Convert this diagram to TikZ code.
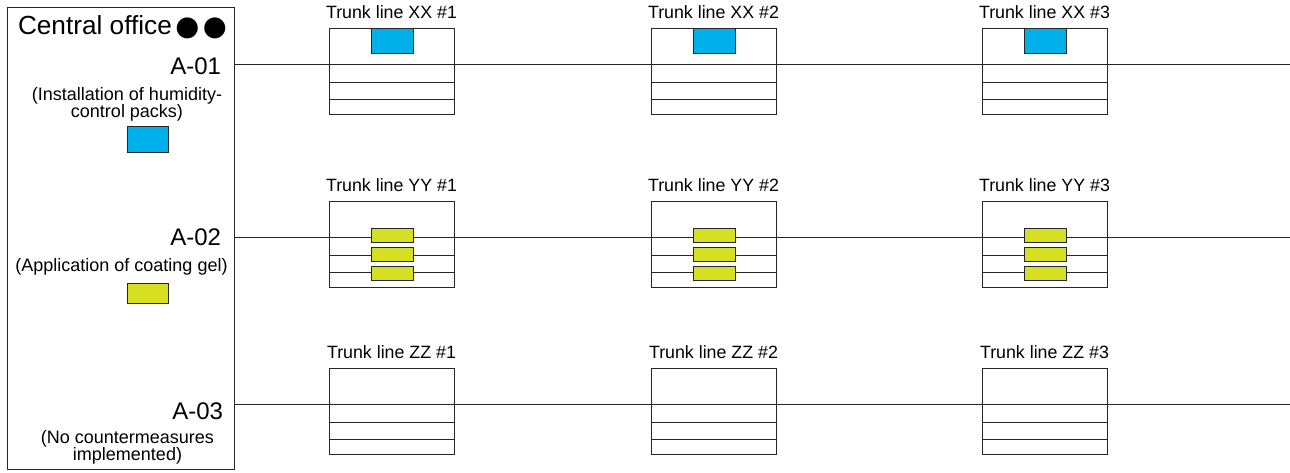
\documentclass[tikz,border=0pt]{standalone}
\usepackage{fontspec}
\setmainfont{Liberation Sans}
\newfontfamily\symfont{DejaVu Sans}
\definecolor{packblue}{HTML}{00B0EB}
\definecolor{gelyellow}{HTML}{D7DF23}
\definecolor{ink}{HTML}{262626}
\begin{document}
\begin{tikzpicture}[x=1pt,y=-1pt,
  frame/.style={draw=ink, line width=1pt},
  plain/.style={inner sep=0pt, outer sep=0pt},
  trunkbox/.style={frame, plain, anchor=north west, minimum width=125pt, minimum height=86pt},
  swatch/.style={draw=ink, line width=0.8pt, plain, anchor=north west},
  trunklabel/.style={plain, anchor=base, font=\fontsize{17.8}{20}\selectfont},
  codelabel/.style={plain, anchor=base east, font=\fontsize{24}{28}\selectfont},
  notelabel/.style={plain, align=center, font=\fontsize{18}{17}\selectfont}]
\useasboundingbox (0,0) rectangle (1290,472);

% office panel on the left
\node[frame, plain, anchor=north west, minimum width=227pt, minimum height=462pt] (office) at (7,7) {};
\node[plain, anchor=base west, font=\fontsize{26.2}{30}\selectfont] (officename) at (18,34)
  {Central office\hspace{3.5pt}{\symfont\fontsize{27.5}{28}\selectfont\raisebox{-1.5pt}{●}\hspace{3.5pt}\raisebox{-1.5pt}{●}}};

\node[codelabel] (a01) at (221,74) {A-01};
\node[notelabel, anchor=north] (a01note) at (127,87) {(Installation of humidity-\\control packs)};
\node[swatch, fill=packblue, minimum width=41pt, minimum height=26pt] (a01key) at (127,126) {};

\node[codelabel] (a02) at (221,245) {A-02};
\node[notelabel, anchor=base] (a02note) at (121.5,271) {(Application of coating gel)};
\node[swatch, fill=gelyellow, minimum width=41pt, minimum height=20pt] (a02key) at (127,283) {};

\node[codelabel] (a03) at (223,419) {A-03};
\node[notelabel, anchor=north, font=\fontsize{18}{16}\selectfont] (a03note) at (127.5,430) {(No countermeasures\\implemented)};

% trunk lines: one row per measure, three trunk boxes per row
\foreach \row/\L in {XX/64, YY/237, ZZ/404} {
  \coordinate (end-\row) at (1290,\L);
  \draw[frame] (office.east |- end-\row) -- (end-\row);
  \foreach \col/\X in {1/329, 2/651, 3/982} {
    \node[trunkbox] (box-\row-\col) at (\X,\L-36) {};
    \draw[frame] ([yshift=-54pt]box-\row-\col.north west) -- ([yshift=-54pt]box-\row-\col.north east);
    \draw[frame] ([yshift=-71pt]box-\row-\col.north west) -- ([yshift=-71pt]box-\row-\col.north east);
    \node[trunklabel] (title-\row-\col) at ([yshift=10pt]box-\row-\col.north) {Trunk line \row\ \#\col};
  }
}

% humidity-control packs on the XX trunks
\foreach \col in {1,2,3}
  \node[swatch, fill=packblue, minimum width=42pt, minimum height=25pt] (pack-\col)
    at ([xshift=42pt]box-XX-\col.north west) {};

% coating gel on the YY trunks
\foreach \col in {1,2,3}
  \foreach \k/\d in {1/27, 2/46, 3/65}
    \node[swatch, fill=gelyellow, minimum width=42pt, minimum height=14pt] (gel-\col-\k)
      at ([xshift=42pt, yshift=-\d pt]box-YY-\col.north west) {};
\end{tikzpicture}
\end{document}
